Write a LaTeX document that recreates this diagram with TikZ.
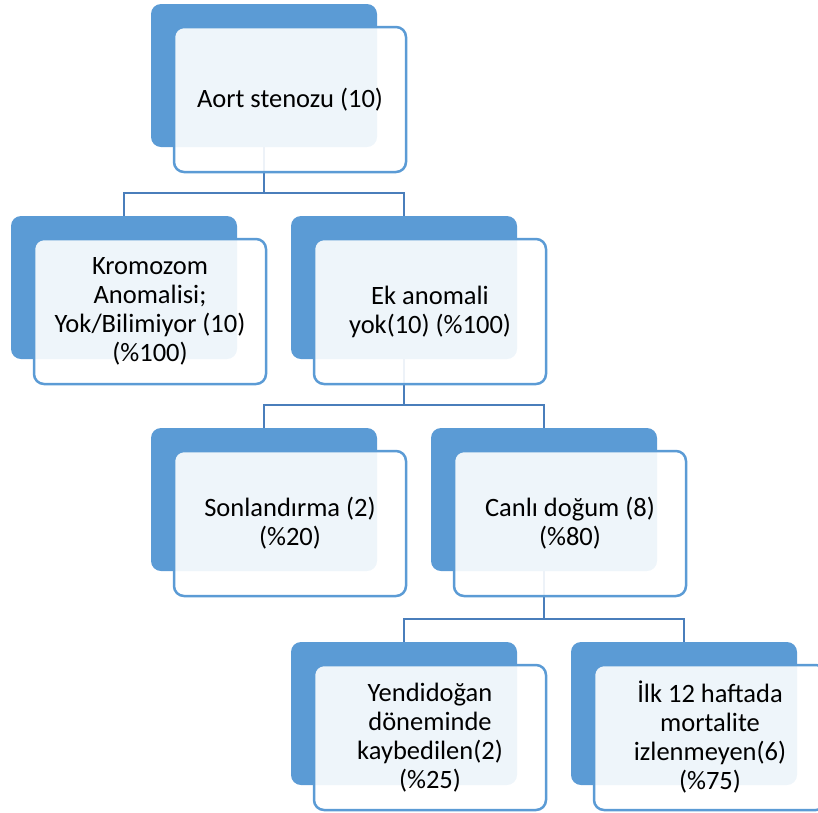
\documentclass[tikz,border=0pt]{standalone}
\usepackage{fontspec}
\setmainfont{Carlito}
\usetikzlibrary{calc}
\definecolor{accent}{HTML}{5B9BD5}
\definecolor{linkblue}{HTML}{4A7EBB}
\pgfdeclarelayer{bg}
\pgfsetlayers{bg,main}
\tikzset{
  x=1pt, y=-1pt,
  backbox/.style={rectangle, rounded corners=10pt, fill=accent, draw=none,
    minimum width=226pt, minimum height=143pt, outer sep=0pt, anchor=north west, inner sep=0pt},
  frontbox/.style={rectangle, rounded corners=10pt, fill=white, fill opacity=0.9, text opacity=1,
    draw=accent, line width=2.5pt, minimum width=232pt, minimum height=145pt,
    outer sep=0pt, anchor=north west, align=center, inner sep=4pt,
    font=\fontsize{26.5}{29}\selectfont},
  link/.style={draw=linkblue, line width=2.5pt}
}
\newcommand{\orgbox}[4]{% name, left, top, text
  \node[backbox] (#1) at (#2,#3) {};
  \node[frontbox] (#1f) at (#2+23,#3+23) {#4};
}
\begin{document}
\begin{tikzpicture}
\useasboundingbox (0,0) rectangle (818,812);

\orgbox{aort}{151}{4}{Aort stenozu (10)}
\orgbox{krom}{11}{216}{Kromozom\\Anomalisi;\\Yok/Bilimiyor (10)\\(\%100)}
\orgbox{ek}{291}{216}{Ek anomali\\yok(10) (\%100)}
\orgbox{son}{151}{428}{Sonlandırma (2)\\(\%20)}
\orgbox{canli}{431}{428}{Canlı doğum (8)\\(\%80)}
\orgbox{yeni}{291}{642}{Yendidoğan\\döneminde\\kaybedilen(2)\\(\%25)}
\orgbox{ilk}{571}{642}{İlk 12 haftada\\mortalite\\izlenmeyen(6)\\(\%75)}

\begin{pgfonlayer}{bg}
  \foreach \p/\c in {aort/krom, aort/ek, ek/son, ek/canli, canli/yeni, canli/ilk}{
    \draw[link] (\p.south) |- ($(\c.north)+(0,-23)$) -- (\c.north);
  }
\end{pgfonlayer}
\end{tikzpicture}
\end{document}
